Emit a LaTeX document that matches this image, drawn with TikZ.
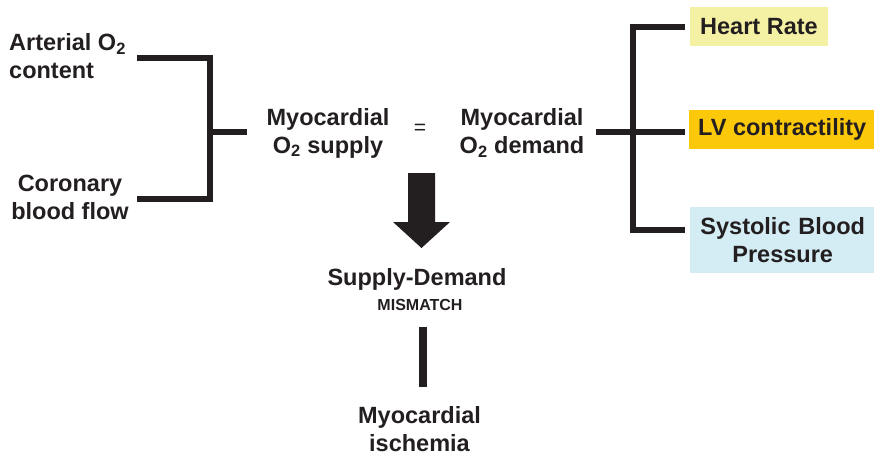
\documentclass[tikz,border=0pt]{standalone}
\usepackage{fontspec}
\setmainfont{Liberation Sans}
\usetikzlibrary{positioning}
\definecolor{DiagInk}{RGB}{35,31,32}
\definecolor{HRYellow}{RGB}{245,241,164}
\definecolor{LVGold}{RGB}{252,200,10}
\definecolor{SBPBlue}{RGB}{212,236,243}

\begin{document}
\begin{tikzpicture}[x=1pt, y=-1pt,
  lbl/.style={text=DiagInk, font=\fontsize{23.5}{28}\selectfont\bfseries, align=center, inner sep=0pt},
  tag/.style={lbl, anchor=west, inner xsep=10pt, minimum height=39pt},
  brk/.style={draw=DiagInk, line width=6.5pt, line join=miter}]
  \useasboundingbox (0,0) rectangle (874,456);

  % Supply side
  \node[lbl, anchor=west, align=left] (art) at (9,56) {Arterial O\textsubscript{2}\\content};
  \node[lbl] (cor) at (70,197) {Coronary\\blood flow};
  \node[lbl] (sup) at (328,133) {Myocardial\\O\textsubscript{2} supply};
  \node[lbl, font=\fontsize{21}{24}\selectfont] (eq) at (420,129) {=};
  \node[lbl] (dem) at (522,133) {Myocardial\\O\textsubscript{2} demand};

  % Demand factors
  \node[tag, fill=HRYellow] (hr) at (690,26.5) {Heart Rate};
  \node[tag, fill=LVGold, inner xsep=9pt] (lv) at (689,129.5) {LV contractility};
  \node[tag, fill=SBPBlue, text width=165pt, minimum height=66pt] (sbp) at (690,240) {Systolic Blood\\Pressure};

  % Result
  \node[lbl] (sd) at (417,279) {Supply-Demand};
  \node[lbl, font=\fontsize{16}{18}\selectfont\bfseries, below=9pt of sd, xshift=3pt] (mis) {MISMATCH};
  \node[lbl] (isch) at (419.5,429) {Myocardial\\ischemia};

  % Bracket joints
  \coordinate (a1) at (137,58);
  \coordinate (c1) at (137,199);
  \coordinate (j1) at (210,132);
  \coordinate (j2) at (633,132);
  \coordinate (h1) at (685,27);
  \coordinate (s1) at (685,230);
  \coordinate (arr) at (421.5,173);

  % Left bracket
  \draw[brk] (a1) -| (j1) |- (c1);
  \draw[brk, shorten >=19.5pt] (j1) -- (sup.west |- j1);

  % Right bracket
  \draw[brk, shorten <=12pt, shorten >=4pt] (dem.east |- j2) -- (lv.west |- j2);
  \draw[brk] (h1) -| (j2) |- (s1);

  % Big arrow down
  \fill[DiagInk] (arr) ++(-13.5,0) -- ++(27,0) -- ++(0,49) -- ++(15,0) -- ++(-28.5,26)
    -- ++(-28.5,-26) -- ++(15,0) -- cycle;

  % Mismatch to ischemia
  \draw[DiagInk, line width=7.5pt, shorten <=16pt, shorten >=19pt]
    ([xshift=3.5pt]isch.north |- mis.south) -- ([xshift=3.5pt]isch.north);
\end{tikzpicture}
\end{document}
